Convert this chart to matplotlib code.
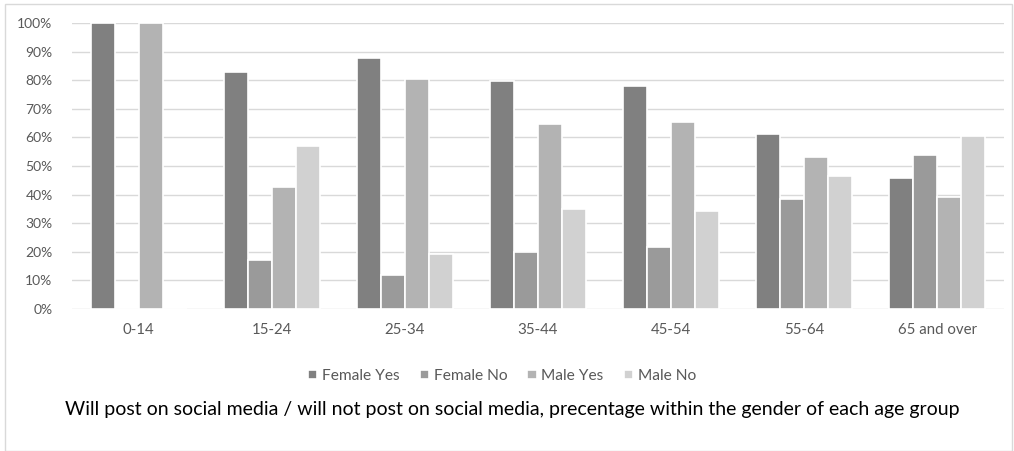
import matplotlib.pyplot as plt
import numpy as np
from matplotlib.patches import Rectangle

ages = ['0-14', '15-24', '25-34', '35-44', '45-54', '55-64', '65 and over']
female_yes = [100, 82.8, 87.8, 79.8, 78.0, 61.3, 45.8]
female_no = [0, 17.0, 12.0, 19.8, 21.7, 38.5, 54.0]
male_yes = [100, 42.8, 80.5, 64.6, 65.4, 53.1, 39.3]
male_no = [0, 57.0, 19.2, 35.1, 34.4, 46.6, 60.4]

series = [('Female Yes', female_yes, '#808080'),
          ('Female No', female_no, '#9a9a9a'),
          ('Male Yes', male_yes, '#b3b3b3'),
          ('Male No', male_no, '#d1d1d1')]

plt.rcParams['font.family'] = ['Lato', 'DejaVu Sans']

fig = plt.figure(figsize=(10.14, 4.51), dpi=100)
ax = fig.add_axes([72 / 1014, 142 / 451, 932 / 1014, 286 / 451])

x = np.arange(len(ages))
pitch = 0.18
for i, (name, vals, col) in enumerate(series):
    ax.bar(x + (i - 1.5) * pitch, vals, width=pitch, color=col,
           edgecolor='white', linewidth=1.2, label=name, zorder=2)

ax.set_xlim(-0.5, len(ages) - 0.5)
ax.set_ylim(0, 100)
ax.set_yticks(range(0, 101, 10))
ax.set_yticklabels([f'{v}%' for v in range(0, 101, 10)])
ax.set_xticks(x)
ax.set_xticklabels(ages)
ax.grid(axis='y', color='#d9d9d9', linewidth=1, zorder=0)
ax.tick_params(length=0, colors='#595959', labelsize=10)
ax.tick_params(axis='x', pad=10, labelsize=10.8)
ax.tick_params(axis='y', pad=14)
for s in ax.spines.values():
    s.set_visible(False)

leg = fig.legend(loc='center', bbox_to_anchor=(0.495, 1 - 376 / 451), ncol=4,
                 frameon=False, fontsize=11.2, handlelength=0.6, handleheight=0.6,
                 handletextpad=0.3, columnspacing=1.3)
for t in leg.get_texts():
    t.set_color('#595959')

fig.text(0.505, 1 - 410 / 451,
         'Will post on social media / will not post on social media, precentage within the gender of each age group',
         ha='center', va='center', fontsize=14, color='black')

fig.patches.append(Rectangle((5 / 1014, 0), 1007 / 1014, 447 / 451,
                             transform=fig.transFigure, fill=False,
                             edgecolor='#d9d9d9', linewidth=1))

fig.savefig('out.png', dpi=100)
